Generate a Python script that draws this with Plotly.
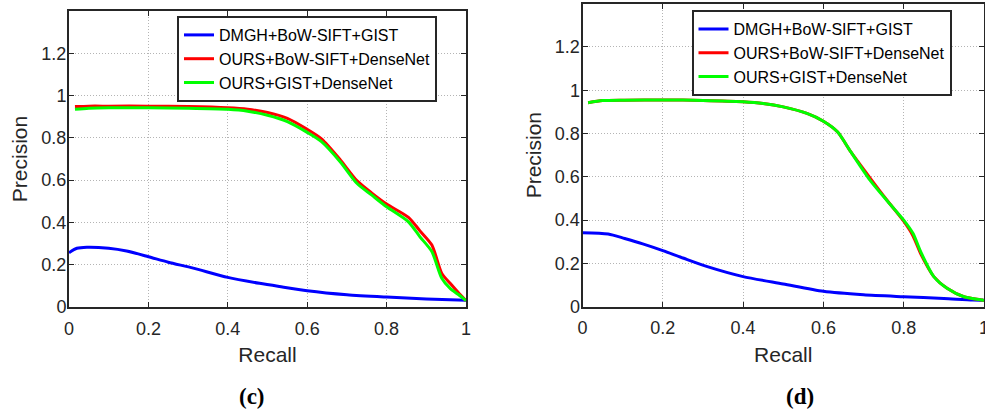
import plotly.graph_objects as go

# ---- panel (c) ----
recall_c_blue = [0, 0.02, 0.045, 0.1, 0.145, 0.2, 0.25, 0.313, 0.4, 0.48, 0.53, 0.6, 0.7, 0.8, 0.9, 1.0]
prec_c_blue = [0.257, 0.278, 0.283, 0.278, 0.265, 0.238, 0.212, 0.184, 0.14, 0.112, 0.097, 0.077, 0.058, 0.047, 0.038, 0.032]

recall_c_ours = [0.015, 0.05, 0.1, 0.2, 0.3, 0.4, 0.45, 0.5, 0.55, 0.6, 0.636, 0.683, 0.725, 0.762,
                 0.8, 0.855, 0.884, 0.914, 0.939, 0.96, 0.98, 1.0]
prec_c_red = [0.948, 0.95, 0.95, 0.95, 0.948, 0.942, 0.935, 0.92, 0.892, 0.84, 0.795, 0.697, 0.598, 0.54,
              0.487, 0.424, 0.36, 0.293, 0.159, 0.112, 0.07, 0.03]
prec_c_green = [0.935, 0.94, 0.942, 0.942, 0.94, 0.935, 0.926, 0.907, 0.877, 0.826, 0.782, 0.687, 0.585, 0.53,
                0.474, 0.403, 0.332, 0.262, 0.136, 0.088, 0.06, 0.03]

# ---- panel (d) ----
recall_d_blue = [0, 0.064, 0.105, 0.15, 0.2, 0.25, 0.311, 0.4, 0.5, 0.6, 0.7, 0.8, 0.9, 0.972, 1.0]
prec_d_blue = [0.342, 0.336, 0.315, 0.29, 0.259, 0.225, 0.185, 0.139, 0.105, 0.071, 0.055, 0.046, 0.038, 0.031, 0.03]

recall_d_ours = [0.014, 0.05, 0.105, 0.2, 0.3, 0.4, 0.45, 0.5, 0.559, 0.6, 0.635, 0.668, 0.716,
                 0.757, 0.8, 0.823, 0.844, 0.875, 0.908, 0.95, 0.995, 1.0]
prec_d_red = [0.942, 0.952, 0.954, 0.955, 0.953, 0.947, 0.939, 0.923, 0.893, 0.857, 0.808, 0.716, 0.595,
              0.495, 0.395, 0.328, 0.238, 0.139, 0.085, 0.046, 0.031, 0.028]
prec_d_green = [0.942, 0.952, 0.954, 0.955, 0.953, 0.947, 0.939, 0.923, 0.893, 0.857, 0.808, 0.716, 0.585,
                0.493, 0.40, 0.339, 0.247, 0.139, 0.085, 0.046, 0.031, 0.028]

series_names = ["DMGH+BoW-SIFT+GIST", "OURS+BoW-SIFT+DenseNet", "OURS+GIST+DenseNet"]
colors = ["#0000ff", "#ff0000", "#00ff00"]

x_ticks = [0, 0.2, 0.4, 0.6, 0.8, 1.0]
x_ticktext = ["0", "0.2", "0.4", "0.6", "0.8", "1"]
y_ticks = [0, 0.2, 0.4, 0.6, 0.8, 1.0, 1.2]
y_ticktext = ["0", "0.2", "0.4", "0.6", "0.8", "1", "1.2"]

FONT = "Liberation Sans, Arial, sans-serif"
INK = "#262626"

fig = go.Figure()

panels = [
    ("x", "y", "legend", [(recall_c_blue, prec_c_blue), (recall_c_ours, prec_c_red), (recall_c_ours, prec_c_green)]),
    ("x2", "y2", "legend2", [(recall_d_blue, prec_d_blue), (recall_d_ours, prec_d_red), (recall_d_ours, prec_d_green)]),
]
for xa, ya, lg, data in panels:
    for i, (xs, ys) in enumerate(data):
        fig.add_trace(go.Scatter(
            x=xs, y=ys, mode="lines", name=series_names[i],
            line=dict(color=colors[i], width=3, shape="spline", smoothing=0.7),
            xaxis=xa, yaxis=ya, legend=lg,
        ))

axis_common = dict(
    showgrid=True, gridcolor="#b4b4b4", griddash="1px,2px", gridwidth=1,
    showline=True, linecolor=INK, linewidth=2, mirror="ticks",
    ticks="inside", ticklen=5, tickwidth=1, tickcolor=INK,
    tickfont=dict(family=FONT, size=18, color=INK),
    zeroline=False, automargin=False,
)

xdef = dict(axis_common, range=[0, 1], tickvals=x_ticks, ticktext=x_ticktext,
            ticklabelstandoff=4, ticklabeloverflow="allow",
            title=dict(text="Recall", font=dict(family=FONT, size=21, color=INK), standoff=10))
ydef = dict(axis_common, range=[0, 1.4], tickvals=y_ticks, ticktext=y_ticktext,
            ticklabelstandoff=-3,
            title=dict(text="Precision", font=dict(family=FONT, size=21, color=INK), standoff=8))

legend_common = dict(
    bgcolor="white", bordercolor=INK, borderwidth=2,
    font=dict(family=FONT, size=16, color="black"),
    xanchor="left", yanchor="top",
)

fig.update_layout(
    width=985, height=412,
    margin=dict(l=0, r=0, t=0, b=0),
    paper_bgcolor="white", plot_bgcolor="white",
    xaxis=dict(xdef, domain=[69 / 985, 466 / 985], anchor="y"),
    yaxis=dict(ydef, domain=[(412 - 307) / 412, (412 - 11) / 412], anchor="x"),
    xaxis2=dict(xdef, domain=[582.5 / 985, 984 / 985], anchor="y2"),
    yaxis2=dict(ydef, domain=[(412 - 306.7) / 412, (412 - 3.6) / 412], anchor="x2"),
    legend=dict(legend_common, x=177 / 985, y=(412 - 16) / 412),
    legend2=dict(legend_common, x=691.5 / 985, y=(412 - 10) / 412),
    annotations=[
        dict(text="<b>(c)</b>", x=252 / 985, y=(412 - 396) / 412, xref="paper", yref="paper",
             showarrow=False, xanchor="center", yanchor="middle",
             font=dict(family="Liberation Serif, Times New Roman, serif", size=23, color="black")),
        dict(text="<b>(d)</b>", x=800 / 985, y=(412 - 396) / 412, xref="paper", yref="paper",
             showarrow=False, xanchor="center", yanchor="middle",
             font=dict(family="Liberation Serif, Times New Roman, serif", size=23, color="black")),
    ],
)

fig.write_html("out.html")
